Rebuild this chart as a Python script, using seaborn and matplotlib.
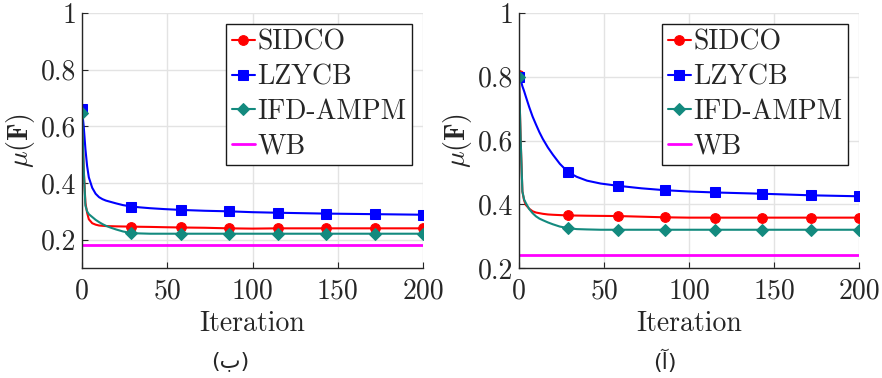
import matplotlib
matplotlib.use("Agg")
import matplotlib.pyplot as plt
import seaborn as sns
import numpy as np

# ---------------- data ----------------
iters = [0, 1, 2, 3, 4, 6, 8, 10, 12, 14, 17, 20, 24, 29, 34, 40, 48, 58, 72, 86, 100,
         115, 143, 172, 200]
marker_iters = [0, 29, 58, 86, 115, 143, 172, 200]

# panel (b) - left
b_sidco = [0.655, 0.45, 0.33, 0.295, 0.272, 0.258, 0.253, 0.250, 0.249, 0.248, 0.2475, 0.247,
           0.2465, 0.246, 0.2455, 0.245, 0.244, 0.243, 0.242, 0.240, 0.239, 0.240, 0.240,
           0.240, 0.240]
b_lzycb = [0.660, 0.60, 0.52, 0.46, 0.42, 0.383, 0.362, 0.350, 0.343, 0.338, 0.333, 0.328,
           0.322, 0.317, 0.314, 0.311, 0.308, 0.305, 0.302, 0.300, 0.297, 0.295, 0.292,
           0.290, 0.288]
b_ifd = [0.648, 0.45, 0.32, 0.300, 0.290, 0.280, 0.270, 0.262, 0.255, 0.249, 0.242, 0.236,
         0.229, 0.223, 0.222, 0.221, 0.221, 0.221, 0.221, 0.221, 0.221, 0.221, 0.221,
         0.221, 0.221]
b_wb = 0.181

# panel (a) - right
a_sidco = [0.805, 0.60, 0.44, 0.412, 0.398, 0.386, 0.378, 0.374, 0.372, 0.370, 0.368, 0.367,
           0.366, 0.365, 0.3645, 0.364, 0.3635, 0.363, 0.361, 0.359, 0.358, 0.358, 0.358,
           0.358, 0.358]
a_lzycb = [0.800, 0.790, 0.770, 0.755, 0.738, 0.705, 0.675, 0.650, 0.626, 0.605, 0.578, 0.555,
           0.527, 0.500, 0.486, 0.474, 0.465, 0.458, 0.450, 0.444, 0.440, 0.437, 0.433,
           0.428, 0.425]
a_ifd = [0.800, 0.60, 0.44, 0.415, 0.404, 0.385, 0.372, 0.362, 0.355, 0.350, 0.343, 0.337,
         0.330, 0.325, 0.322, 0.321, 0.320, 0.320, 0.320, 0.320, 0.320, 0.320, 0.320,
         0.320, 0.320]
a_wb = 0.240

series_names = ["SIDCO", "LZYCB", "IFD-AMPM", "WB"]
xticks = [0, 50, 100, 150, 200]
yticks = [0.2, 0.4, 0.6, 0.8, 1.0]
ytick_labels = ["0.2", "0.4", "0.6", "0.8", "1"]
captions = ["(ب)", "(آ)"]

# ---------------- style ----------------
sns.set_style("white")
plt.rcParams["font.family"] = ["cmr10", "DejaVu Serif"]
plt.rcParams["mathtext.fontset"] = "cm"
plt.rcParams["axes.unicode_minus"] = False

colors = {"SIDCO": "#ff0000", "LZYCB": "#0000ff", "IFD-AMPM": "#138a7e", "WB": "#ff00ff"}
markers = {"SIDCO": "o", "LZYCB": "s", "IFD-AMPM": "D"}
msizes = {"SIDCO": 7, "LZYCB": 6.5, "IFD-AMPM": 6}

fig = plt.figure(figsize=(8.82, 3.78), dpi=100)
W, H = 882, 378
ax_b = fig.add_axes([82 / W, (H - 268) / H, 341 / W, 255 / H])
ax_a = fig.add_axes([519 / W, (H - 268) / H, 340 / W, 255 / H])

mark_idx = [iters.index(m) for m in marker_iters]

panels = [
    (ax_b, b_sidco, b_lzycb, b_ifd, b_wb, (0.1, 1.0), captions[0]),
    (ax_a, a_sidco, a_lzycb, a_ifd, a_wb, (0.2, 1.0), captions[1]),
]

FS = 20
tick_color = "#262626"
for ax, s, l, f, wb, ylim, cap in panels:
    for name, vals in zip(series_names[:3], [s, l, f]):
        sns.lineplot(x=iters, y=vals, ax=ax, color=colors[name], linewidth=1.5,
                     marker=markers[name], markersize=msizes[name], markevery=mark_idx,
                     markeredgecolor=colors[name], label=name)
    sns.lineplot(x=[iters[0], iters[-1]], y=[wb, wb], ax=ax, color=colors["WB"],
                 linewidth=2.0, label="WB")
    ax.set_xlim(0, 200)
    ax.set_ylim(*ylim)
    ax.set_xticks(xticks)
    ax.set_xticklabels([str(t) for t in xticks])
    ax.set_yticks(yticks)
    ax.set_yticklabels(ytick_labels)
    ax.grid(True, color="#e3e3e3", linewidth=1.0)
    ax.set_axisbelow(True)
    for sp in ["top", "right"]:
        ax.spines[sp].set_visible(False)
    for sp in ["left", "bottom"]:
        ax.spines[sp].set_color("#262626")
        ax.spines[sp].set_linewidth(1.0)
    ax.tick_params(axis="both", direction="in", length=4, width=0.8, colors=tick_color,
                   labelsize=FS, left=True, bottom=True)
    ax.tick_params(axis="x", pad=7)
    ax.tick_params(axis="y", pad=4)
    ax.set_xlabel("Iteration", fontsize=FS, color=tick_color, labelpad=5)
    ax.set_ylabel(r"$\mu(\mathbf{F})$", fontsize=FS, color=tick_color, labelpad=3)
    leg = ax.legend(loc="upper right", bbox_to_anchor=(0.968, 0.957), fontsize=FS,
                    frameon=True, fancybox=False, edgecolor="#1a1a1a", framealpha=1,
                    handlelength=0.85, handletextpad=0.08, labelspacing=0.3,
                    borderpad=0.2, borderaxespad=0.0, numpoints=1)
    leg.get_frame().set_linewidth(1.0)
    for t in leg.get_texts():
        t.set_color(tick_color)

fig.text(230 / W, 1 - 361 / H, captions[0], ha="center", va="center", fontsize=16,
         family=["DejaVu Sans"], color=tick_color)
fig.text(665 / W, 1 - 361 / H, captions[1], ha="center", va="center", fontsize=16,
         family=["DejaVu Sans"], color=tick_color)

fig.savefig("out.png", dpi=100)
